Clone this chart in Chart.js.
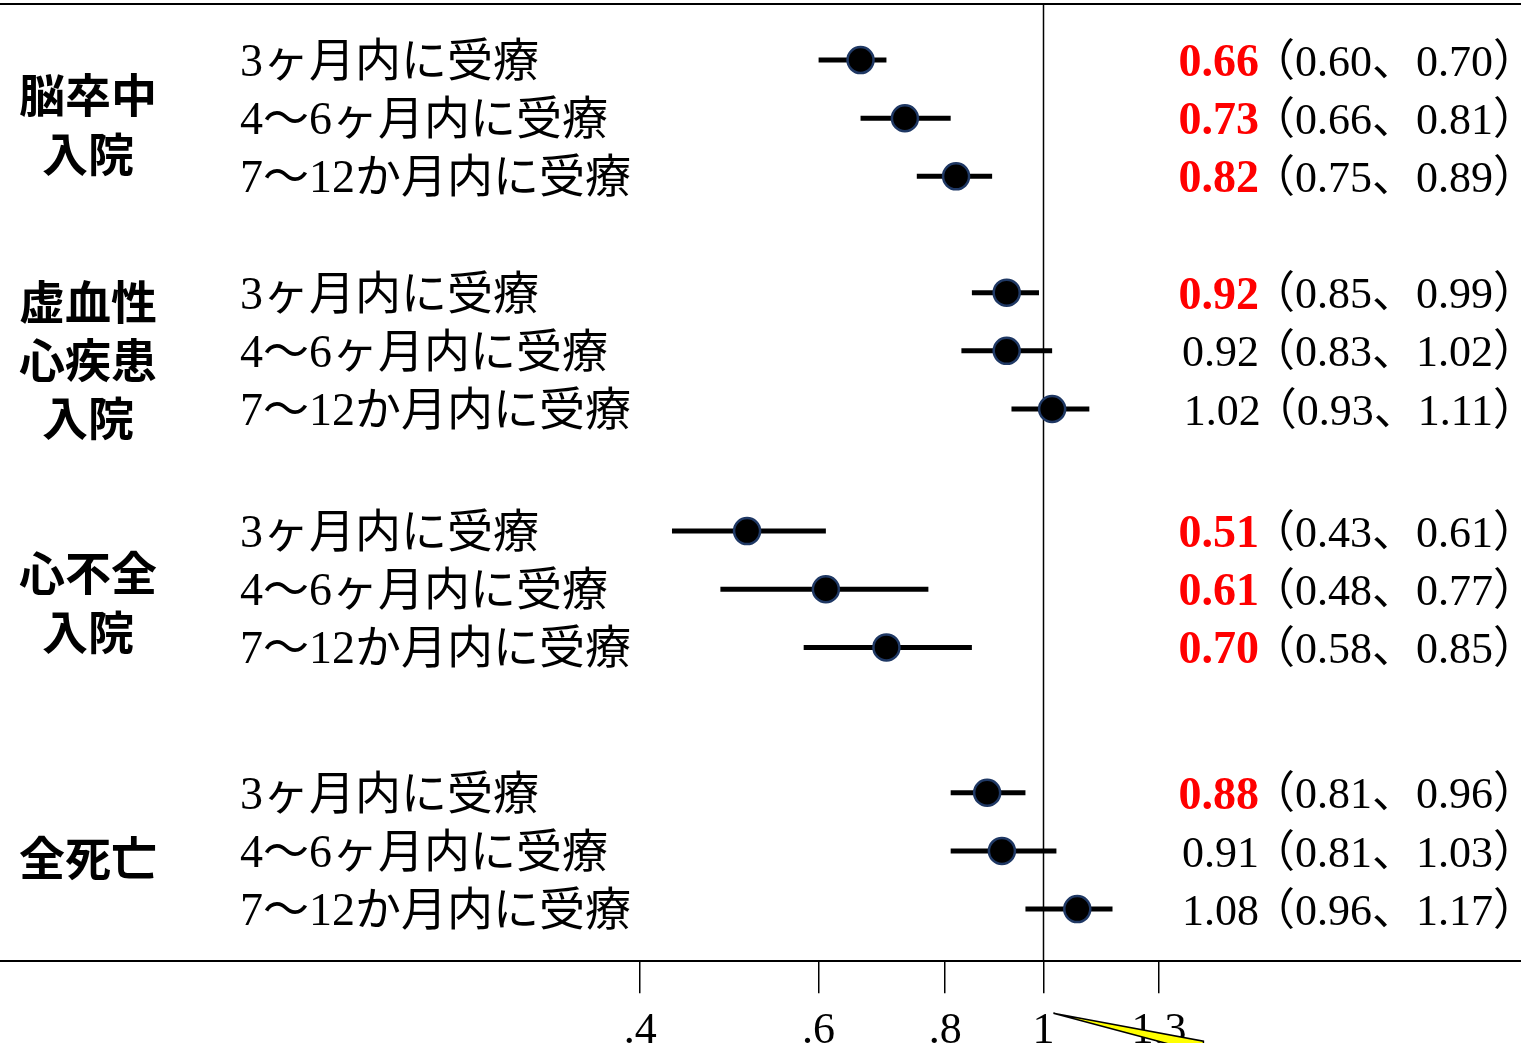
<!DOCTYPE html>
<html>
<head>
<meta charset="utf-8">
<script src="https://cdn.jsdelivr.net/npm/chart.js@4/dist/chart.umd.min.js"></script>
<style>
  html, body { margin: 0; padding: 0; background: #fff; overflow: hidden; }
  #wrap { width: 1521px; height: 1070px; }
</style>
</head>
<body>
<div id="wrap"><canvas id="c" width="1521" height="1070"></canvas></div>
<script>
// data
var groupLabels = [['脳卒中', '入院'], ['虚血性', '心疾患', '入院'], ['心不全', '入院'], ['全死亡']];
var rowLabels = ['3ヶ月内に受療', '4～6ヶ月内に受療', '7～12か月内に受療'];
var hazard = [0.66, 0.73, 0.82, 0.92, 0.92, 1.02, 0.51, 0.61, 0.70, 0.88, 0.91, 1.08];
var lower  = [0.60, 0.66, 0.75, 0.85, 0.83, 0.93, 0.43, 0.48, 0.58, 0.81, 0.81, 0.96];
var upper  = [0.70, 0.81, 0.89, 0.99, 1.02, 1.11, 0.61, 0.77, 0.85, 0.96, 1.03, 1.17];
var tickValues = [0.4, 0.6, 0.8, 1, 1.3];
var tickLabels = ['.4', '.6', '.8', '1', '1.3'];

// layout: where each group starts on the row axis, and where its title lines sit
var groupStart = [0, 4, 8.1, 12.6];
var groupTitleRows = [[0.6, 1.6], [0.15, 1.15, 2.15], [0.72, 1.72], [1.12]];

var points = [];
for (var i = 0; i < hazard.length; i++) {
	var g = Math.floor(i / 3);
	points.push({ x: hazard[i], y: groupStart[g] + (i % 3) });
}

function fmt(v) { return v.toFixed(2); }

var forestPlugin = {
	id: 'forest',
	beforeDatasetsDraw: function(chart) {
		var ctx = chart.ctx, xs = chart.scales.x, ys = chart.scales.y, area = chart.chartArea;
		ctx.save();
		// frame lines
		ctx.strokeStyle = '#000';
		ctx.lineWidth = 2;
		ctx.beginPath();
		ctx.moveTo(0, area.top);
		ctx.lineTo(chart.width, area.top);
		ctx.stroke();
		// reference line at 1
		ctx.lineWidth = 1.5;
		var x1 = Math.round(xs.getPixelForValue(1)) + 0.5;
		ctx.beginPath();
		ctx.moveTo(x1, area.top);
		ctx.lineTo(x1, area.bottom);
		ctx.stroke();
		// confidence intervals
		ctx.lineWidth = 5;
		for (var i = 0; i < hazard.length; i++) {
			var y = ys.getPixelForValue(points[i].y);
			ctx.beginPath();
			ctx.moveTo(xs.getPixelForValue(lower[i]), y);
			ctx.lineTo(xs.getPixelForValue(upper[i]), y);
			ctx.stroke();
		}
		ctx.restore();
	},
	afterDraw: function(chart) {
		var ctx = chart.ctx, xs = chart.scales.x, ys = chart.scales.y, area = chart.chartArea;
		ctx.save();
		ctx.fillStyle = '#000';
		ctx.textBaseline = 'middle';

		// group titles
		ctx.font = 'bold 46px "Noto Sans CJK JP"';
		ctx.textAlign = 'center';
		groupLabels.forEach(function(lines, g) {
			lines.forEach(function(t, k) {
				ctx.fillText(t, area.left + 88, ys.getPixelForValue(groupStart[g] + groupTitleRows[g][k]));
			});
		});

		// row labels and estimates
		for (var i = 0; i < hazard.length; i++) {
			var y = ys.getPixelForValue(points[i].y) + 4;
			ctx.textAlign = 'left';
			ctx.fillStyle = '#000';
			ctx.font = '46px "Liberation Serif", "Noto Sans CJK JP"';
			ctx.fillText(rowLabels[i % 3], area.left + 240, y);

			var rest = '（' + fmt(lower[i]) + '、' + fmt(upper[i]) + '）';
			var right = area.right + 16;
			ctx.textAlign = 'right';
			ctx.font = '44px "Liberation Serif", "Noto Sans CJK JP"';
			ctx.fillText(rest, right, y);
			var w = ctx.measureText(rest).width;
			if (upper[i] < 1) {
				ctx.fillStyle = '#ff0000';
				ctx.font = 'bold 46px "Liberation Serif"';
			}
			ctx.fillText(fmt(hazard[i]), right - w + 8, y);
		}

		// small yellow callout left on the axis
		var bx = xs.getPixelForValue(1) + 10, by = area.bottom + 52;
		ctx.fillStyle = '#ffff00';
		ctx.strokeStyle = '#000';
		ctx.lineWidth = 1.5;
		ctx.beginPath();
		ctx.moveTo(bx, by);
		ctx.lineTo(bx + 150, by + 28);
		ctx.lineTo(bx + 150, by + 40);
		ctx.closePath();
		ctx.fill();
		ctx.stroke();
		ctx.restore();
	}
};

new Chart(document.getElementById('c'), {
	type: 'scatter',
	data: {
		datasets: [{
			data: points,
			pointRadius: 13,
			pointHoverRadius: 13,
			pointBackgroundColor: '#000',
			pointBorderColor: '#1f3864',
			pointBorderWidth: 2.5
		}]
	},
	options: {
		responsive: false,
		animation: false,
		devicePixelRatio: 1,
		layout: { autoPadding: false, padding: { top: 4, left: 0, right: 0, bottom: 0 } },
		plugins: { legend: { display: false }, tooltip: { enabled: false } },
		scales: {
			x: {
				type: 'logarithmic',
				min: 0.0934,
				max: 2.96,
				afterBuildTicks: function(scale) {
					scale.ticks = tickValues.map(function(v) { return { value: v }; });
				},
				grid: { drawOnChartArea: false, drawTicks: true, tickLength: 32, color: '#000', lineWidth: 1.5 },
				border: { display: true, color: '#000', width: 2 },
				ticks: {
					padding: 12,
					color: '#000',
					maxRotation: 0,
					autoSkip: false,
					font: { family: '"Liberation Serif"', size: 44 },
					callback: function(v) {
						var k = tickValues.indexOf(v);
						return k >= 0 ? tickLabels[k] : '';
					}
				}
			},
			y: {
				type: 'linear',
				reverse: true,
				min: -0.964,
				max: 15.496,
				display: false
			}
		}
	},
	plugins: [forestPlugin]
});
</script>
</body>
</html>
